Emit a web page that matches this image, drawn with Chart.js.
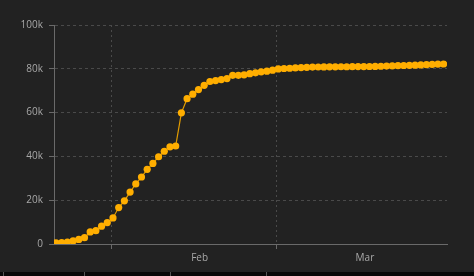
<!DOCTYPE html>
<html>
<head>
<meta charset="utf-8">
<script src="https://cdn.jsdelivr.net/npm/chart.js@4"></script>
<style>
  html, body { margin: 0; padding: 0; background: #222222; }
  #wrap { position: relative; width: 474px; height: 276px; overflow: hidden; }
  #strip { position: absolute; left: 0; bottom: 0; width: 474px; height: 4px; background: #080808; }
  #strip span { position: absolute; top: 0; width: 1px; height: 4px; background: #555; }
</style>
</head>
<body>
<div id="wrap">
  <canvas id="casesChart" width="474" height="276"></canvas>
  <div id="strip"><span style="left:3px"></span><span style="left:84px"></span><span style="left:170px"></span><span style="left:266px"></span></div>
</div>
<script>
// daily dates, Jan 22 - Mar 30
const dates = [
  '01-22','01-23','01-24','01-25','01-26','01-27','01-28','01-29','01-30','01-31',
  '02-01','02-02','02-03','02-04','02-05','02-06','02-07','02-08','02-09','02-10',
  '02-11','02-12','02-13','02-14','02-15','02-16','02-17','02-18','02-19','02-20',
  '02-21','02-22','02-23','02-24','02-25','02-26','02-27','02-28','02-29',
  '03-01','03-02','03-03','03-04','03-05','03-06','03-07','03-08','03-09','03-10',
  '03-11','03-12','03-13','03-14','03-15','03-16','03-17','03-18','03-19','03-20',
  '03-21','03-22','03-23','03-24','03-25','03-26','03-27','03-28','03-29','03-30'
];
// cumulative confirmed cases
const cases = [
  548, 643, 920, 1406, 2075, 2877, 5509, 6087, 8141, 9802,
  11891, 16630, 19716, 23707, 27440, 30587, 34110, 36814, 39829, 42354,
  44386, 44759, 59895, 66358, 68413, 70513, 72434, 74211, 74619, 75077,
  75550, 77001, 77022, 77241, 77754, 78166, 78600, 78928, 79356,
  79932, 80136, 80261, 80386, 80537, 80690, 80770, 80823, 80860, 80887,
  80921, 80932, 80945, 80977, 81003, 81033, 81058, 81102, 81156, 81250,
  81305, 81435, 81498, 81591, 81661, 81782, 81897, 81999, 82122, 82198
];
const monthStarts = ['02-01', '03-01'];
const monthLabels = ['Feb', 'Mar'];
const yTicks = [0, 20000, 40000, 60000, 80000, 100000];

const points = cases.map((v, i) => ({ x: i, y: v }));

// month boundary gridlines sit a little before the day's point, labels mid-month
const dayShift = 0.3;
const gridTicks = monthStarts.map(d => ({ value: dates.indexOf(d) - dayShift, label: '' }));
const labelTicks = monthStarts.map((d, i) => ({ value: dates.indexOf(d) - dayShift + 15.5, label: monthLabels[i] }));
const xTicks = gridTicks.concat(labelTicks);

const gridColor = '#4a4a4a';
const textColor = '#a8a8a8';

new Chart(document.getElementById('casesChart'), {
  type: 'line',
  data: {
    datasets: [{
      data: points,
      borderColor: '#e39d00',
      borderWidth: 1.2,
      backgroundColor: '#ffae00',
      pointBackgroundColor: '#ffae00',
      pointBorderWidth: 0,
      pointRadius: 3.6,
      tension: 0
    }]
  },
  options: {
    responsive: false,
    animation: false,
    devicePixelRatio: 1,
    layout: { padding: { top: 25, right: 27, left: 0, bottom: 0 } },
    plugins: { legend: { display: false }, tooltip: { enabled: false } },
    scales: {
      x: {
        type: 'linear',
        min: -0.35,
        max: 68.6,
        afterBuildTicks: s => { s.ticks = xTicks.map(t => ({ value: t.value })); },
        afterFit: s => { s.height = 32; },
        ticks: {
          autoSkip: false,
          maxRotation: 0,
          color: textColor,
          padding: 3,
          font: { family: 'Open Sans', size: 10 },
          callback: v => {
            const t = xTicks.find(k => Math.abs(k.value - v) < 0.01);
            return t ? t.label : '';
          }
        },
        grid: {
          color: c => (c.index < gridTicks.length ? gridColor : 'transparent'),
          tickColor: c => (c.index < gridTicks.length ? '#6a6a6a' : 'transparent'),
          tickLength: 5,
          lineWidth: 1
        },
        border: { display: true, color: '#6a6a6a', width: 1, dash: [2, 3] }
      },
      y: {
        min: 0,
        max: 100000,
        afterBuildTicks: s => { s.ticks = yTicks.map(v => ({ value: v })); },
        afterFit: s => { s.width = 54; },
        ticks: {
          color: textColor,
          padding: 6,
          font: { family: 'Open Sans', size: 10 },
          callback: v => (v === 0 ? '0' : (v / 1000) + 'k')
        },
        grid: {
          color: c => (c.tick && c.tick.value === 0 ? 'transparent' : gridColor),
          tickColor: '#6a6a6a',
          tickLength: 5,
          lineWidth: 1
        },
        border: { display: true, color: '#6a6a6a', width: 1, dash: [3, 3] }
      }
    }
  }
});
</script>
</body>
</html>
